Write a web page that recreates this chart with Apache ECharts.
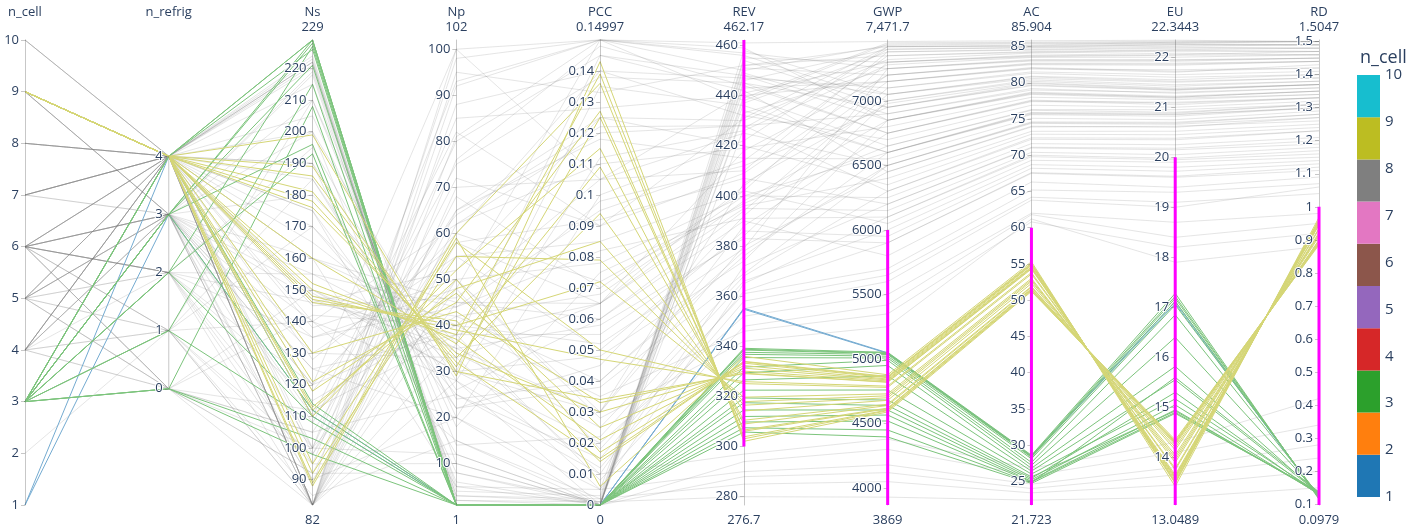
<!DOCTYPE html>
<html>
<head>
<meta charset="utf-8">
<script src="https://cdn.jsdelivr.net/npm/echarts@6/dist/echarts.min.js"></script>
<style>
  html, body { margin: 0; padding: 0; background: #fff; }
  #chart { width: 1416px; height: 532px; }
</style>
</head>
<body>
<div id="chart"></div>
<script>
// Dimensions of the design space and the performance outputs
const dimNames = ['n_cell', 'n_refrig', 'Ns', 'Np', 'PCC', 'REV', 'GWP', 'AC', 'EU', 'RD'];
const axisMin = [1, -2, 82, 1, 0, 276.7, 3869, 21.723, 13.0489, 0.0979];
const axisMax = [10, 6, 229, 102, 0.14997, 462.17, 7471.7, 85.904, 22.3443, 1.5047];
const showRange = [false, false, true, true, true, true, true, true, true, true];

// Tick values per axis
const ticksNCell = [1, 2, 3, 4, 5, 6, 7, 8, 9, 10];
const ticksNRefrig = [0, 1, 2, 3, 4];
const ticksNs = [90, 100, 110, 120, 130, 140, 150, 160, 170, 180, 190, 200, 210, 220];
const ticksNp = [10, 20, 30, 40, 50, 60, 70, 80, 90, 100];
const ticksPCC = [0, 0.01, 0.02, 0.03, 0.04, 0.05, 0.06, 0.07, 0.08, 0.09, 0.1, 0.11, 0.12, 0.13, 0.14];
const ticksREV = [280, 300, 320, 340, 360, 380, 400, 420, 440, 460];
const ticksGWP = [4000, 4500, 5000, 5500, 6000, 6500, 7000];
const ticksAC = [25, 30, 35, 40, 45, 50, 55, 60, 65, 70, 75, 80, 85];
const ticksEU = [14, 15, 16, 17, 18, 19, 20, 21, 22];
const ticksRD = [0.1, 0.2, 0.3, 0.4, 0.5, 0.6, 0.7, 0.8, 0.9, 1, 1.1, 1.2, 1.3, 1.4, 1.5];
const axisTicks = [ticksNCell, ticksNRefrig, ticksNs, ticksNp, ticksPCC, ticksREV, ticksGWP, ticksAC, ticksEU, ticksRD];

// Constraint window (null = open end)
const limitLow  = [null, null, null, null, null, 300, null, null, null, null];
const limitHigh = [null, null, null, null, null, null, 6000, 60, 20, 1.0];

// n_cell colour scale
const cellLevels = [1, 2, 3, 4, 5, 6, 7, 8, 9, 10];
const cellColors = ['#1f77b4', '#ff7f0e', '#2ca02c', '#d62728', '#9467bd',
                    '#8c564b', '#e377c2', '#7f7f7f', '#bcbd22', '#17becf'];

// Designs: [n_cell, n_refrig, Ns, Np, PCC, REV, GWP, AC, EU, RD]
const cell1Designs = [
  [1, 3, 112, 1, 0, 355.2, 5048, 28.5, 17.12, 0.118],
  [1, 4, 110, 1, 0, 354.8, 5044, 28.4, 17.08, 0.121]
];

const cell3Designs = [
  [3, 4, 229, 1, 0, 339.2, 5052, 28.6, 17.28, 0.115],
  [3, 4, 229, 1, 0, 338.8, 5047, 28.5, 17.22, 0.118],
  [3, 3, 229, 1, 0, 338.5, 5042, 28.4, 17.18, 0.120],
  [3, 3, 228, 1, 0, 337.6, 5035, 28.3, 17.12, 0.122],
  [3, 2, 227, 1, 0, 336.8, 5022, 28.1, 17.05, 0.125],
  [3, 4, 226, 1, 0, 335.5, 5008, 27.6, 16.85, 0.127],
  [3, 3, 221, 1, 0, 331.7, 4990, 27.2, 16.40, 0.130],
  [3, 1, 215, 1, 0, 329.4, 4950, 26.8, 15.82, 0.131],
  [3, 0, 208, 1, 0, 326.6, 4870, 26.4, 15.55, 0.133],
  [3, 3, 196, 1, 0, 322.5, 4760, 26.0, 15.17, 0.134],
  [3, 2, 193, 1, 0, 319.4, 4682, 25.6, 14.93, 0.135],
  [3, 4, 114, 1, 0, 317.5, 4640, 25.4, 15.30, 0.128],
  [3, 3, 112, 1, 0, 314.6, 4605, 25.2, 15.05, 0.130],
  [3, 1, 108, 1, 0, 312.0, 4566, 25.0, 14.95, 0.132],
  [3, 0, 103, 1, 0, 309.8, 4520, 24.9, 14.90, 0.135],
  [3, 0, 98, 1, 0, 307.5, 4450, 24.8, 15.60, 0.137],
  [3, 2, 110, 1, 0, 305.8, 4396, 24.7, 14.88, 0.138]
];

const cell9Designs = [
  [9, 4, 199, 29, 0.143, 302.1, 4590, 51.2, 14.35, 0.885],
  [9, 4, 189, 30, 0.034, 329.1, 4820, 54.3, 13.65, 0.945],
  [9, 4, 186, 31, 0.125, 306.6, 4620, 51.6, 14.25, 0.895],
  [9, 4, 181, 32, 0.015, 333.8, 4860, 55.0, 13.50, 0.960],
  [9, 4, 178, 33, 0.094, 314.2, 4680, 52.3, 14.05, 0.910],
  [9, 4, 176, 34, 0.030, 330.1, 4830, 54.5, 13.60, 0.950],
  [9, 4, 160, 36, 0.109, 310.5, 4650, 51.9, 14.15, 0.900],
  [9, 4, 152, 37, 0.021, 332.3, 4845, 54.8, 13.55, 0.955],
  [9, 4, 150, 38, 0.139, 303.1, 4600, 51.3, 14.30, 0.888],
  [9, 4, 148, 39, 0.047, 325.9, 4790, 53.8, 13.75, 0.935],
  [9, 4, 147, 40, 0.072, 319.7, 4730, 53.0, 13.90, 0.922],
  [9, 4, 146, 41, 0.014, 334.0, 4865, 55.1, 13.48, 0.962],
  [9, 4, 121, 45, 0.127, 306.1, 4615, 51.5, 14.28, 0.892],
  [9, 4, 118, 47, 0.025, 331.3, 4838, 54.6, 13.58, 0.952],
  [9, 4, 113, 48, 0.085, 316.5, 4700, 52.6, 14.00, 0.915],
  [9, 4, 112, 50, 0.017, 333.3, 4855, 54.9, 13.52, 0.958],
  [9, 4, 110, 52, 0.115, 309.0, 4640, 51.8, 14.20, 0.898],
  [9, 4, 95, 58, 0.050, 325.1, 4780, 53.6, 13.78, 0.932],
  [9, 4, 89, 60, 0.136, 303.9, 4605, 51.4, 14.32, 0.890],
  [9, 4, 88, 59, 0.006, 336.0, 4878, 55.3, 13.42, 0.968],
  [9, 4, 92, 55, 0.079, 317.9, 4715, 52.8, 13.95, 0.918],
  [9, 4, 130, 43, 0.033, 329.3, 4822, 54.4, 13.62, 0.947]
];

const otherDesigns = [
  [10, 4, 222, 1, 0.000, 458, 7050, 80.6, 21.50, 1.39],
  [10, 4, 223, 2, 0.001, 452, 7420, 85.2, 22.30, 1.50],
  [8, 4, 222, 1, 0.000, 455, 7300, 83.7, 22.05, 1.47],
  [8, 4, 221, 3, 0.002, 449, 6900, 79.0, 21.30, 1.36],
  [5, 4, 224, 1, 0.000, 446, 7400, 84.9, 22.25, 1.49],
  [4, 4, 222, 2, 0.000, 443, 7150, 81.9, 21.75, 1.42],
  [7, 4, 220, 4, 0.003, 440, 6650, 76.2, 20.90, 1.31],
  [4, 3, 219, 5, 0.005, 437, 7380, 84.6, 22.20, 1.48],
  [9, 3, 218, 3, 0.001, 433, 7250, 83.0, 21.92, 1.45],
  [10, 4, 82, 100, 0.150, 461, 7460, 85.8, 22.34, 1.50],
  [8, 4, 82, 92, 0.150, 456, 7000, 80.2, 21.42, 1.38],
  [7, 4, 82, 81, 0.150, 450, 7430, 85.4, 22.28, 1.50],
  [6, 3, 82, 76, 0.148, 444, 6750, 77.4, 21.10, 1.33],
  [5, 3, 82, 65, 0.125, 430, 7320, 84.1, 22.12, 1.47],
  [4, 4, 82, 70, 0.105, 425, 6500, 74.6, 20.70, 1.28],
  [4, 0, 82, 58, 0.065, 418, 7200, 82.6, 21.86, 1.44],
  [6, 2, 82, 50, 0.030, 405, 6980, 80.0, 21.38, 1.37],
  [9, 3, 82, 62, 0.120, 428, 6300, 72.2, 20.35, 1.23],
  [5, 4, 82, 88, 0.140, 447, 7100, 81.3, 21.60, 1.40],
  [6, 1, 82, 45, 0.065, 398, 6850, 78.6, 21.20, 1.35],
  [7, 4, 82, 95, 0.133, 452, 7350, 84.3, 22.15, 1.48],
  [4, 1, 82, 36, 0.010, 372, 6200, 71.0, 20.15, 1.19],
  [6, 4, 82, 28, 0.000, 355, 5600, 63.8, 19.00, 1.06],
  [8, 4, 146, 38, 0.065, 404, 7150, 82.0, 21.70, 1.43],
  [8, 4, 148, 42, 0.068, 400, 6600, 75.8, 20.85, 1.30],
  [5, 3, 147, 35, 0.030, 388, 6750, 77.5, 21.05, 1.33],
  [6, 3, 150, 33, 0.065, 395, 6150, 70.4, 20.05, 1.18],
  [4, 4, 145, 46, 0.105, 410, 7380, 84.5, 22.18, 1.48],
  [7, 4, 149, 30, 0.030, 380, 6450, 74.0, 20.60, 1.27],
  [6, 2, 146, 52, 0.125, 420, 6350, 72.9, 20.45, 1.24],
  [6, 4, 175, 22, 0.045, 392, 7050, 80.9, 21.55, 1.40],
  [6, 3, 130, 55, 0.085, 402, 6050, 69.3, 19.90, 1.15],
  [5, 4, 160, 40, 0.098, 412, 6950, 79.7, 21.35, 1.37],
  [4, 3, 120, 60, 0.140, 432, 6700, 76.9, 21.00, 1.32],
  [9, 3, 135, 48, 0.150, 438, 7440, 85.5, 22.30, 1.50],
  [7, 4, 190, 28, 0.112, 426, 7280, 83.5, 22.00, 1.46],
  [6, 0, 105, 65, 0.118, 415, 6550, 75.1, 20.75, 1.29],
  [5, 1, 98, 72, 0.090, 409, 7200, 82.5, 21.84, 1.44],
  [4, 4, 205, 18, 0.075, 396, 6400, 73.3, 20.52, 1.25],
  [6, 2, 115, 42, 0.040, 376, 6600, 75.6, 20.82, 1.30],
  [3, 4, 170, 25, 0.015, 362, 5900, 67.5, 19.60, 1.11],
  [6, 3, 125, 38, 0.055, 384, 7000, 80.4, 21.45, 1.38],
  [5, 4, 138, 50, 0.078, 400, 6250, 71.6, 20.25, 1.21],
  [4, 2, 155, 44, 0.095, 414, 7350, 84.2, 22.14, 1.47],
  [8, 4, 165, 34, 0.025, 368, 6300, 72.4, 20.38, 1.23],
  [6, 1, 185, 26, 0.060, 390, 5800, 66.3, 19.40, 1.09],
  [7, 4, 100, 80, 0.145, 448, 6850, 78.4, 21.18, 1.34],
  [5, 0, 92, 68, 0.070, 402, 7300, 83.8, 22.08, 1.46],
  [4, 4, 110, 55, 0.050, 386, 5950, 68.2, 19.72, 1.13],
  [6, 4, 200, 30, 0.135, 436, 6600, 75.9, 20.88, 1.31],
  [9, 3, 210, 20, 0.100, 422, 7420, 85.0, 22.25, 1.49],
  [5, 3, 180, 36, 0.145, 442, 6450, 73.9, 20.62, 1.26],
  [6, 2, 95, 85, 0.128, 440, 7150, 82.1, 21.72, 1.42],
  [4, 3, 140, 62, 0.110, 419, 6800, 78.0, 21.15, 1.34],
  [3, 3, 88, 98, 0.150, 457, 7250, 83.2, 21.95, 1.45],
  [6, 4, 128, 58, 0.092, 407, 6200, 71.1, 20.18, 1.20],
  [10, 4, 160, 45, 0.060, 394, 7100, 81.5, 21.65, 1.41],
  [7, 4, 118, 64, 0.122, 428, 6900, 79.2, 21.28, 1.36],
  [5, 2, 195, 24, 0.040, 378, 6500, 74.4, 20.66, 1.27],
  [6, 3, 108, 75, 0.138, 445, 6950, 79.9, 21.36, 1.37],
  [6, 0, 150, 30, 0.020, 352, 5500, 62.0, 18.70, 0.98],
  [5, 3, 120, 40, 0.035, 346, 5350, 60.8, 18.20, 0.92],
  [4, 1, 140, 28, 0.012, 358, 5650, 64.2, 19.10, 1.04],
  [6, 2, 100, 50, 0.028, 342, 5250, 61.2, 17.90, 0.88],
  [7, 4, 130, 33, 0.005, 365, 6100, 69.8, 19.95, 1.16],
  [5, 0, 112, 38, 0.008, 348, 5420, 61.8, 18.40, 0.95],
  [6, 3, 90, 48, 0.018, 361, 5700, 65.2, 19.30, 1.07],
  [4, 0, 100, 12, 0.000, 294, 4300, 25.8, 14.10, 0.34],
  [6, 2, 90, 20, 0.005, 290, 4180, 24.6, 13.80, 0.28],
  [3, 1, 85, 15, 0.002, 285, 4050, 23.4, 13.45, 0.20],
  [5, 0, 92, 8, 0.001, 280, 3930, 22.4, 13.20, 0.15],
  [6, 0, 105, 25, 0.010, 297, 4380, 26.8, 14.30, 0.42],
  [2, 1, 95, 10, 0.000, 288, 4120, 24.0, 13.65, 0.24],
  [4, 3, 160, 5, 0.000, 445, 6750, 77.6, 21.08, 1.33],
  [6, 4, 190, 8, 0.000, 451, 7200, 82.7, 21.88, 1.44],
  [5, 4, 175, 12, 0.000, 439, 7450, 85.6, 22.32, 1.50],
  [8, 4, 140, 15, 0.000, 434, 6600, 75.7, 20.86, 1.30],
  [7, 3, 200, 6, 0.000, 448, 7050, 80.8, 21.52, 1.39],
  [6, 3, 125, 20, 0.000, 427, 7400, 84.8, 22.22, 1.49],
  [4, 4, 215, 10, 0.000, 454, 6950, 79.6, 21.34, 1.37],
  [6, 2, 120, 100, 0.105, 441, 7300, 83.6, 22.04, 1.46],
  [5, 3, 100, 93, 0.150, 459, 6850, 78.7, 21.22, 1.35],
  [9, 3, 110, 82, 0.090, 431, 7420, 85.1, 22.27, 1.49],
  [6, 1, 170, 30, 0.048, 374, 6850, 78.5, 21.20, 1.35],
  [5, 2, 135, 44, 0.082, 391, 6100, 70.0, 19.98, 1.17],
  [4, 4, 185, 22, 0.038, 369, 6500, 74.5, 20.68, 1.28],
  [7, 3, 155, 35, 0.058, 383, 5900, 67.6, 19.62, 1.12],
  [6, 4, 98, 60, 0.072, 397, 6650, 76.3, 20.95, 1.31],
  [5, 1, 210, 14, 0.022, 366, 6000, 68.7, 19.80, 1.14],
  [6, 0, 142, 40, 0.052, 379, 7250, 83.1, 21.94, 1.45]
];

// ---- layout and styling ----
const W = 1416, H = 532;
const PAR = { left: 25, right: 97, top: 40, bottom: 27 };
const PAR_H = H - PAR.top - PAR.bottom;
const TEXT = '#2a3f5f';
const AXIS_GREY = 'rgba(68,68,68,0.3)';
const FONT = '"Open Sans", sans-serif';
const GREY_OPACITY = 0.2;
const LINE_TINT = 0.62;   // share of the scale colour in a selected line

const fmtRange = (v, grouping) => v.toLocaleString('en-US', { maximumFractionDigits: 6, useGrouping: grouping });
const fmtTick = v => String(Math.round(v * 1e6) / 1e6);
const axisX = i => PAR.left + i * (W - PAR.left - PAR.right) / (dimNames.length - 1);
const tint = (hex, f) => {
  const n = parseInt(hex.slice(1), 16);
  const ch = [(n >> 16) & 255, (n >> 8) & 255, n & 255].map(c => Math.round(c * f + 255 * (1 - f)));
  return 'rgb(' + ch.join(',') + ')';
};

// Split designs into those inside the constraint window and the rest
const allDesigns = [].concat(otherDesigns, cell1Designs, cell3Designs, cell9Designs);
const inWindow = row => row.every((v, i) =>
  (limitLow[i] === null || v >= limitLow[i]) && (limitHigh[i] === null || v <= limitHigh[i]));
const selected = allDesigns.filter(inWindow);
const unselected = allDesigns.filter(r => !inWindow(r));

const parallelAxis = dimNames.map((name, i) => ({
  dim: i,
  min: axisMin[i],
  max: axisMax[i],
  axisLine: { show: i !== 1, lineStyle: { color: AXIS_GREY, width: 1 } },
  axisTick: { show: true, length: -4, customValues: axisTicks[i], lineStyle: { color: AXIS_GREY } },
  axisLabel: {
    customValues: axisTicks[i],
    formatter: fmtTick,
    margin: -6,
    align: 'right',
    color: TEXT,
    fontSize: 13,
    fontFamily: FONT,
    textBorderColor: '#fff',
    textBorderWidth: 2
  },
  silent: true
}));

// Axis headers (name + max) and min captions
const textEl = (x, y, text, size) => ({
  type: 'text', x, y, silent: true, z: 20,
  style: { text, textAlign: 'center', textVerticalAlign: 'middle', fill: TEXT, font: size + 'px ' + FONT }
});
const captions = [];
dimNames.forEach((name, i) => {
  captions.push(textEl(axisX(i), 12, name, 13));
  if (showRange[i]) {
    captions.push(textEl(axisX(i), 27, fmtRange(axisMax[i], true), 13));
    captions.push(textEl(axisX(i), H - 12, fmtRange(axisMin[i], false), 13));
  }
});

// Overlay grids sharing each axis' scale: constraint bars and the n_refrig segment
const overlayGrids = [], overlayX = [], overlayY = [], overlaySeries = [];
const addOverlay = (i, lo, hi, color, width) => {
  const g = overlayGrids.length + 1;
  overlayGrids.push({ left: axisX(i) - 5, width: 10, top: PAR.top, height: PAR_H });
  overlayX.push({ gridIndex: g, type: 'value', min: 0, max: 1, show: false });
  overlayY.push({ gridIndex: g, type: 'value', min: axisMin[i], max: axisMax[i], show: false });
  overlaySeries.push({
    type: 'line', xAxisIndex: g, yAxisIndex: g, z: 10, silent: true,
    symbol: 'none', data: [[0.5, lo], [0.5, hi]],
    lineStyle: { color, width, cap: 'butt' }
  });
};
addOverlay(1, ticksNRefrig[0], ticksNRefrig[ticksNRefrig.length - 1], AXIS_GREY, 1);
dimNames.forEach((name, i) => {
  if (limitLow[i] !== null || limitHigh[i] !== null) {
    addOverlay(i,
      limitLow[i] === null ? axisMin[i] : limitLow[i],
      limitHigh[i] === null ? axisMax[i] : limitHigh[i],
      '#ff00ff', 3);
  }
});

// Colour bar: one stacked block per n_cell level on a 1..10 scale
const blockSize = (cellLevels[cellLevels.length - 1] - cellLevels[0]) / cellLevels.length;
const colorBarSeries = [{
  type: 'bar', stack: 'cb', xAxisIndex: 0, yAxisIndex: 0, barWidth: '100%',
  data: [cellLevels[0]], itemStyle: { color: 'transparent' }, silent: true
}].concat(cellColors.map(c => ({
  type: 'bar', stack: 'cb', xAxisIndex: 0, yAxisIndex: 0, barWidth: '100%',
  data: [blockSize], itemStyle: { color: c }, silent: true
})));

const chart = echarts.init(document.getElementById('chart'), null, { renderer: 'canvas' });

chart.setOption({
  animation: false,
  backgroundColor: '#fff',
  textStyle: { fontFamily: FONT },
  title: {
    text: 'n_cell', left: 1355, top: 44,
    textStyle: { color: TEXT, fontSize: 18, fontWeight: 'normal', fontFamily: FONT }
  },
  parallel: {
    left: PAR.left, right: PAR.right, top: PAR.top, bottom: PAR.bottom,
    layout: 'horizontal'
  },
  parallelAxis,
  grid: [{ left: 1357, top: 75, width: 23, height: 422 }].concat(overlayGrids),
  xAxis: [{ gridIndex: 0, type: 'category', data: [''], show: false }].concat(overlayX),
  yAxis: [{
    gridIndex: 0, type: 'value',
    min: cellLevels[0], max: cellLevels[cellLevels.length - 1], interval: 1,
    position: 'right',
    axisLine: { show: false }, axisTick: { show: false }, splitLine: { show: false },
    axisLabel: { margin: 5, color: TEXT, fontSize: 15, fontFamily: FONT }
  }].concat(overlayY),
  visualMap: {
    type: 'piecewise', show: false, dimension: 0, seriesIndex: 1,
    pieces: cellLevels.map((v, k) => ({ value: v, color: tint(cellColors[k], LINE_TINT) }))
  },
  graphic: captions,
  series: [
    {
      type: 'parallel', name: 'other', silent: true,
      data: unselected,
      lineStyle: { color: '#7f7f7f', width: 1, opacity: GREY_OPACITY }
    },
    {
      type: 'parallel', name: 'selected', silent: true,
      data: selected,
      lineStyle: { width: 1, opacity: 1 }
    }
  ].concat(colorBarSeries, overlaySeries)
});
</script>
</body>
</html>
